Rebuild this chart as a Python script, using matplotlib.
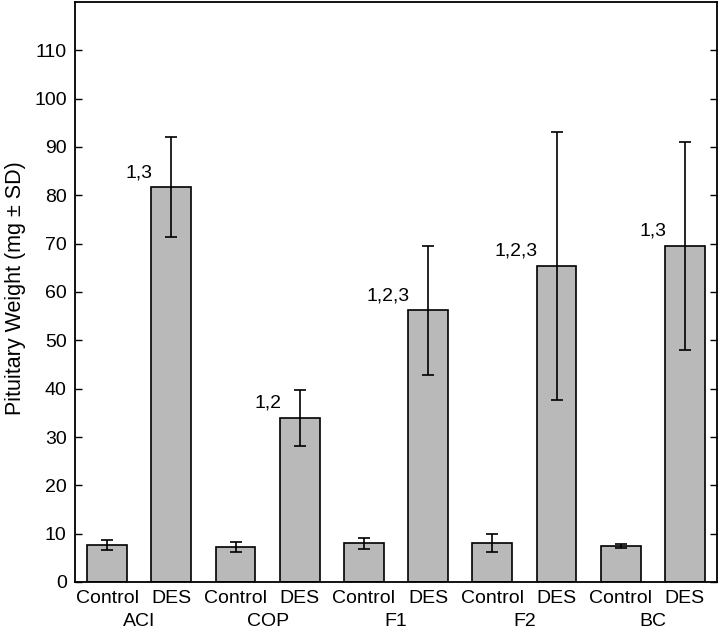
import numpy as np
from matplotlib import pyplot as plt

plt.rcParams['font.family'] = ['Liberation Sans', 'DejaVu Sans']

# Data
strains   = ['ACI', 'COP', 'F1', 'F2', 'BC']
groups    = ['Control', 'DES']
ctrl_mean = [7.7, 7.3, 8.0, 8.1, 7.4]
ctrl_sd   = [1.0, 1.0, 1.2, 1.9, 0.45]
des_mean  = [81.7, 34.0, 56.2, 65.4, 69.6]
des_sd    = [10.3, 5.8, 13.4, 27.8, 21.5]
des_note  = ['1,3', '1,2', '1,2,3', '1,2,3', '1,3']

width = 0.62
fs    = 14

fig = plt.figure(figsize=(7.2, 6.33), dpi=100)
ax  = fig.add_axes([75/720, 1-582/633, 642/720, 580/633])

means = []
sds   = []
for c, cs, d, ds in zip(ctrl_mean, ctrl_sd, des_mean, des_sd):
	means += [c, d]
	sds   += [cs, ds]
x = np.arange(len(means))

ax.bar(x, means, width, color='#b9b9b9', edgecolor='k', linewidth=1.2, zorder=2)
ax.errorbar(x, means, yerr=sds, fmt='none', ecolor='k', elinewidth=1.2,
			capsize=4, capthick=1.2, zorder=3)

# significance notes left of the DES bars
for i, note in enumerate(des_note):
	xi = 2*i + 1
	ax.text(xi - width/2 + 0.02, des_mean[i] + 3, note, ha='right', va='center', fontsize=fs)

ax.set_xlim(-0.5, len(means) - 0.5)
ax.set_ylim(0, 120)
ax.set_yticks(np.arange(0, 111, 10))
ax.tick_params(axis='y', direction='in', length=5, width=1, labelsize=fs, right=True, pad=6)
ax.set_xticks(x)
ax.set_xticklabels(groups*len(strains), fontsize=fs)
ax.tick_params(axis='x', length=0, pad=6)
for i, s in enumerate(strains):
	ax.text(2*i + 0.5, -0.053, s, transform=ax.get_xaxis_transform(), ha='center', va='top', fontsize=fs)

for sp in ax.spines.values():
	sp.set_linewidth(1.3)
ax.set_ylabel('Pituitary Weight (mg \u00b1 SD)', fontsize=15.5)
ax.yaxis.set_label_coords(-0.077, 0.507)

fig.savefig('out.png', dpi=100)
